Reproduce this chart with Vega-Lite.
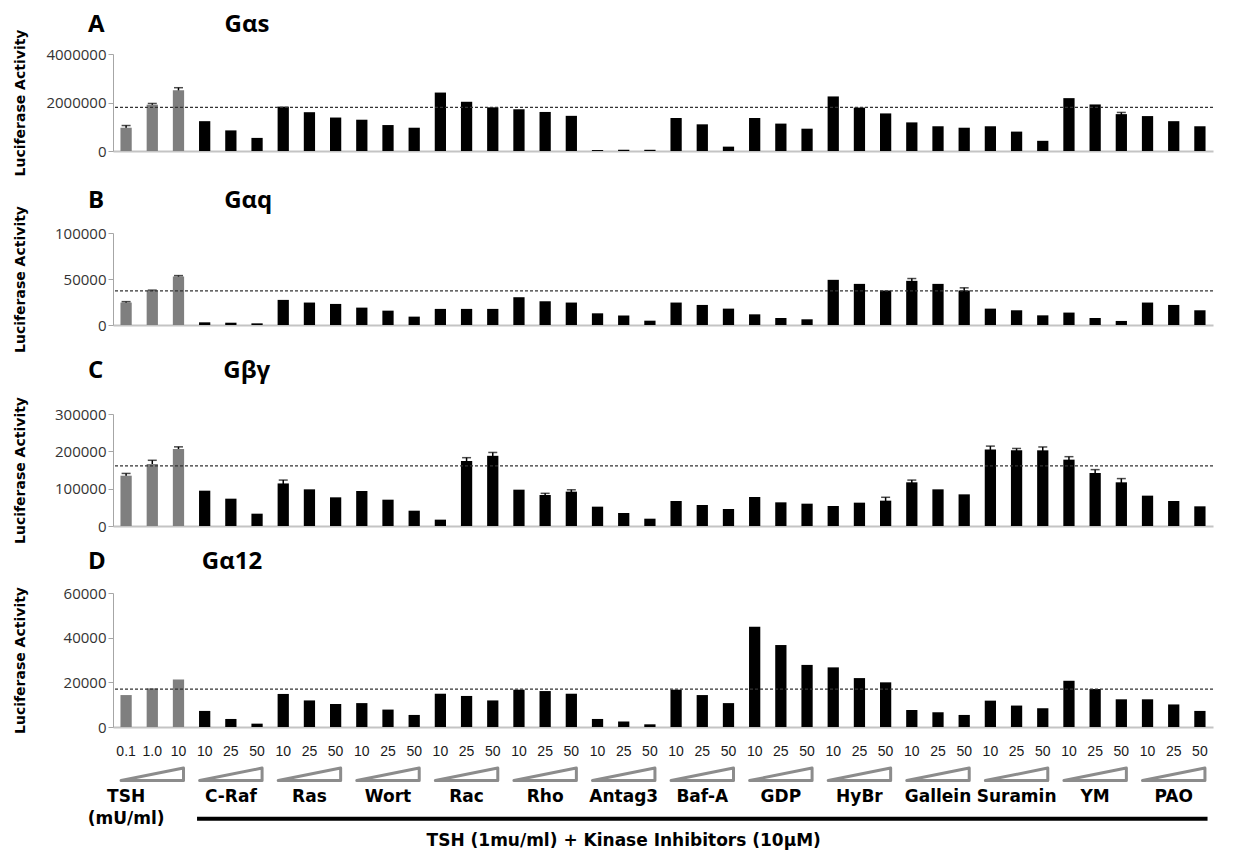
{
  "$schema": "https://vega.github.io/schema/vega-lite/v6.json",
  "background": "white",
  "padding": {"left": 13, "top": 13, "right": 10, "bottom": 0},
  "spacing": 6,
  "datasets": {
    "bars": [
      {"i": 1, "g": "TSH", "d": "0.1", "A": 960000, "eA": 90000, "B": 24400, "eB": 1000, "C": 134800, "eC": 6000, "D": 14300},
      {"i": 2, "g": "TSH", "d": "1.0", "A": 1910000, "eA": 50000, "B": 37100, "eB": 800, "C": 166000, "eC": 10000, "D": 17300},
      {"i": 3, "g": "TSH", "d": "10", "A": 2510000, "eA": 100000, "B": 52700, "eB": 1000, "C": 206000, "eC": 6000, "D": 21300},
      {"i": 4, "g": "C-Raf", "d": "10", "A": 1230000, "B": 2900, "C": 94600, "D": 7200},
      {"i": 5, "g": "C-Raf", "d": "25", "A": 850000, "B": 2500, "C": 73200, "D": 3600},
      {"i": 6, "g": "C-Raf", "d": "50", "A": 540000, "B": 1800, "C": 33000, "D": 1500},
      {"i": 7, "g": "Ras", "d": "10", "A": 1830000, "B": 27300, "C": 114000, "eC": 9000, "D": 14800},
      {"i": 8, "g": "Ras", "d": "25", "A": 1600000, "B": 24400, "C": 98200, "D": 11900},
      {"i": 9, "g": "Ras", "d": "50", "A": 1380000, "B": 22900, "C": 76800, "D": 10300},
      {"i": 10, "g": "Wort", "d": "10", "A": 1290000, "B": 18900, "C": 93800, "D": 10700},
      {"i": 11, "g": "Wort", "d": "25", "A": 1070000, "B": 15600, "C": 70500, "D": 7800},
      {"i": 12, "g": "Wort", "d": "50", "A": 960000, "B": 9100, "C": 41000, "D": 5400},
      {"i": 13, "g": "Rac", "d": "10", "A": 2410000, "B": 17500, "C": 17000, "D": 14900},
      {"i": 14, "g": "Rac", "d": "25", "A": 2030000, "B": 17500, "C": 174000, "eC": 9000, "D": 13900},
      {"i": 15, "g": "Rac", "d": "50", "A": 1800000, "B": 17500, "C": 188000, "eC": 9000, "D": 11900},
      {"i": 16, "g": "Rho", "d": "10", "A": 1720000, "B": 30200, "C": 97300, "D": 16700},
      {"i": 17, "g": "Rho", "d": "25", "A": 1610000, "B": 25800, "C": 83000, "eC": 4500, "D": 16100},
      {"i": 18, "g": "Rho", "d": "50", "A": 1450000, "B": 24400, "C": 92000, "eC": 5000, "D": 14900},
      {"i": 19, "g": "Antag3", "d": "10", "A": 40000, "B": 12700, "C": 51800, "D": 3600},
      {"i": 20, "g": "Antag3", "d": "25", "A": 50000, "B": 10200, "C": 34800, "D": 2500},
      {"i": 21, "g": "Antag3", "d": "50", "A": 50000, "B": 4700, "C": 19600, "D": 1200},
      {"i": 22, "g": "Baf-A", "d": "10", "A": 1360000, "B": 24400, "C": 67000, "D": 16700},
      {"i": 23, "g": "Baf-A", "d": "25", "A": 1100000, "B": 21800, "C": 56300, "D": 14300},
      {"i": 24, "g": "Baf-A", "d": "50", "A": 180000, "B": 17800, "C": 45500, "D": 10700},
      {"i": 25, "g": "GDP", "d": "10", "A": 1360000, "B": 11600, "C": 77700, "D": 44900},
      {"i": 26, "g": "GDP", "d": "25", "A": 1130000, "B": 7600, "C": 63400, "D": 36700},
      {"i": 27, "g": "GDP", "d": "50", "A": 920000, "B": 6200, "C": 59800, "D": 27800},
      {"i": 28, "g": "HyBr", "d": "10", "A": 2250000, "B": 49100, "C": 53600, "D": 26700},
      {"i": 29, "g": "HyBr", "d": "25", "A": 1790000, "B": 44700, "C": 62500, "D": 21900},
      {"i": 30, "g": "HyBr", "d": "50", "A": 1550000, "B": 37500, "C": 67900, "eC": 9000, "D": 20000},
      {"i": 31, "g": "Gallein", "d": "10", "A": 1180000, "B": 48000, "eB": 2500, "C": 117000, "eC": 6000, "D": 7600},
      {"i": 32, "g": "Gallein", "d": "25", "A": 1020000, "B": 44700, "C": 98200, "D": 6600},
      {"i": 33, "g": "Gallein", "d": "50", "A": 960000, "B": 37500, "eB": 2900, "C": 84800, "D": 5400},
      {"i": 34, "g": "Suramin", "d": "10", "A": 1020000, "B": 17800, "C": 205000, "eC": 9000, "D": 11800},
      {"i": 35, "g": "Suramin", "d": "25", "A": 800000, "B": 16000, "C": 202700, "eC": 5000, "D": 9600},
      {"i": 36, "g": "Suramin", "d": "50", "A": 420000, "B": 10500, "C": 202700, "eC": 9000, "D": 8400},
      {"i": 37, "g": "YM", "d": "10", "A": 2180000, "B": 13500, "C": 177700, "eC": 8000, "D": 20700},
      {"i": 38, "g": "YM", "d": "25", "A": 1920000, "B": 7600, "C": 142000, "eC": 9000, "D": 17000},
      {"i": 39, "g": "YM", "d": "50", "A": 1520000, "eA": 70000, "B": 4400, "C": 117000, "eC": 10000, "D": 12400},
      {"i": 40, "g": "PAO", "d": "10", "A": 1440000, "B": 24400, "C": 81300, "D": 12400},
      {"i": 41, "g": "PAO", "d": "25", "A": 1230000, "B": 21800, "C": 67000, "D": 10100},
      {"i": 42, "g": "PAO", "d": "50", "A": 1020000, "B": 16000, "C": 52700, "D": 7200}
    ],
    "refs": [{"A": 1800000, "B": 37000, "C": 161000, "D": 17000}],
    "groups": [
      {"g": "TSH", "sub": "(mU/ml)", "at": 1, "mid": 2},
      {"g": "C-Raf", "at": 5, "mid": 5},
      {"g": "Ras", "at": 8, "mid": 8},
      {"g": "Wort", "at": 11, "mid": 11},
      {"g": "Rac", "at": 14, "mid": 14},
      {"g": "Rho", "at": 17, "mid": 17},
      {"g": "Antag3", "at": 20, "mid": 20},
      {"g": "Baf-A", "at": 23, "mid": 23},
      {"g": "GDP", "at": 26, "mid": 26},
      {"g": "HyBr", "at": 29, "mid": 29},
      {"g": "Gallein", "at": 32, "mid": 32},
      {"g": "Suramin", "at": 35, "mid": 35},
      {"g": "YM", "at": 38, "mid": 38},
      {"g": "PAO", "at": 41, "mid": 41}
    ],
    "span": [{"from": 4, "to": 42, "at": 20, "text": "TSH (1mu/ml) + Kinase Inhibitors (10µM)"}]
  },
  "config": {
    "view": {"stroke": null},
    "font": "Open Sans",
    "title": {"font": "Open Sans", "fontSize": 24, "fontWeight": "bold", "color": "black", "anchor": "start", "frame": "group", "baseline": "alphabetic", "dx": -25},
    "axisY": {
      "grid": false, "format": "d", "domainColor": "#a6a6a6", "tickColor": "#a6a6a6", "tickSize": 5,
      "labelFont": "Open Sans", "labelFontSize": 15, "labelColor": "#333333", "labelPadding": 2,
      "titleFont": "DejaVu Sans", "titleFontSize": 14, "titleFontWeight": "bold", "titleColor": "black",
      "titleX": -89, "titleBaseline": "alphabetic"
    },
    "axisX": {"labels": false, "ticks": false, "title": null, "domainColor": "#c4c4c4", "domainWidth": 2}
  },
  "resolve": {"scale": {"y": "independent"}},
  "vconcat": [
    {
      "width": 1100, "height": 97,
      "title": {"text": "A\u2003\u2003\u2003\u2003\u2003Gαs", "offset": -8},
      "data": {"name": "bars"},
      "encoding": {"y": {"field": "A", "type": "quantitative", "scale": {"domain": [0, 4000000], "nice": false}, "axis": {"values": [0, 2000000, 4000000], "title": "Luciferase Activity"}}},
      "layer": [
        {"transform": [{"filter": "datum.eA > 0"}], "mark": {"type": "errorbar", "ticks": {"size": 9}, "thickness": 1.5, "color": "black"},
         "encoding": {"x": {"field": "i", "type": "ordinal", "scale": {"paddingInner": 0.57, "paddingOuter": 0.285}, "axis": {"minExtent": 32}}, "yError": {"field": "eA"}}},
        {"mark": {"type": "bar"},
         "encoding": {"x": {"field": "i", "type": "ordinal", "scale": {"paddingInner": 0.57, "paddingOuter": 0.285}, "axis": {"minExtent": 32}},
           "color": {"condition": {"test": "datum.g === 'TSH'", "value": "#7f7f7f"}, "value": "black"}}},
        {"data": {"name": "refs"}, "mark": {"type": "rule", "strokeDash": [3, 2], "color": "#333333", "strokeWidth": 1.3}, "encoding": {}}
      ]
    },
    {
      "width": 1100, "height": 92,
      "title": {"text": "B\u2003\u2003\u2003\u2003\u2003Gαq", "offset": -7.8},
      "data": {"name": "bars"},
      "encoding": {"y": {"field": "B", "type": "quantitative", "scale": {"domain": [0, 100000], "nice": false}, "axis": {"values": [0, 50000, 100000], "title": "Luciferase Activity"}}},
      "layer": [
        {"transform": [{"filter": "datum.eB > 0"}], "mark": {"type": "errorbar", "ticks": {"size": 9}, "thickness": 1.5, "color": "black"},
         "encoding": {"x": {"field": "i", "type": "ordinal", "scale": {"paddingInner": 0.57, "paddingOuter": 0.285}, "axis": {"minExtent": 28}}, "yError": {"field": "eB"}}},
        {"mark": {"type": "bar"},
         "encoding": {"x": {"field": "i", "type": "ordinal", "scale": {"paddingInner": 0.57, "paddingOuter": 0.285}, "axis": {"minExtent": 28}},
           "color": {"condition": {"test": "datum.g === 'TSH'", "value": "#7f7f7f"}, "value": "black"}}},
        {"data": {"name": "refs"}, "mark": {"type": "rule", "strokeDash": [3, 2], "color": "#333333", "strokeWidth": 1.3}, "encoding": {}}
      ]
    },
    {
      "width": 1100, "height": 112,
      "title": {"text": "C\u2003\u2003\u2003\u2003\u2003Gβγ", "offset": 13.2},
      "data": {"name": "bars"},
      "encoding": {"y": {"field": "C", "type": "quantitative", "scale": {"domain": [0, 300000], "nice": false}, "axis": {"values": [0, 100000, 200000, 300000], "title": "Luciferase Activity"}}},
      "layer": [
        {"transform": [{"filter": "datum.eC > 0"}], "mark": {"type": "errorbar", "ticks": {"size": 9}, "thickness": 1.5, "color": "black"},
         "encoding": {"x": {"field": "i", "type": "ordinal", "scale": {"paddingInner": 0.57, "paddingOuter": 0.285}}, "yError": {"field": "eC"}}},
        {"mark": {"type": "bar"},
         "encoding": {"x": {"field": "i", "type": "ordinal", "scale": {"paddingInner": 0.57, "paddingOuter": 0.285}},
           "color": {"condition": {"test": "datum.g === 'TSH'", "value": "#7f7f7f"}, "value": "black"}}},
        {"data": {"name": "refs"}, "mark": {"type": "rule", "strokeDash": [3, 2], "color": "#333333", "strokeWidth": 1.3}, "encoding": {}}
      ]
    },
    {
      "width": 1100, "height": 134,
      "title": {"text": "D\u2003\u2003\u2003\u2003Gα12", "offset": 11.7},
      "data": {"name": "bars"},
      "encoding": {"y": {"field": "D", "type": "quantitative", "scale": {"domain": [0, 60000], "nice": false}, "axis": {"values": [0, 20000, 40000, 60000], "title": "Luciferase Activity"}}},
      "layer": [
        {"mark": {"type": "bar"},
         "encoding": {"x": {"field": "i", "type": "ordinal", "scale": {"paddingInner": 0.57, "paddingOuter": 0.285}},
           "color": {"condition": {"test": "datum.g === 'TSH'", "value": "#7f7f7f"}, "value": "black"}}},
        {"data": {"name": "refs"}, "mark": {"type": "rule", "strokeDash": [3, 2], "color": "#333333", "strokeWidth": 1.3}, "encoding": {}}
      ]
    },
    {
      "width": 1100, "height": 111,
      "layer": [
        {"data": {"name": "bars"}, "mark": {"type": "text", "font": "Liberation Sans", "fontSize": 14, "color": "#1a1a1a"},
         "encoding": {"x": {"field": "i", "type": "ordinal", "scale": {"paddingInner": 0.57, "paddingOuter": 0.285}, "axis": null},
           "y": {"datum": "dose", "type": "ordinal", "scale": {"type": "point", "domain": ["dose", "wedge", "name", "line", "caption"], "padding": 0.5}, "axis": null},
           "text": {"field": "d"}}},
        {"data": {"name": "groups"}, "mark": {"type": "point", "shape": "M -1 0.2 L 1 -0.2 L 1 0.2 Z", "size": 3900, "filled": true, "fill": "white", "stroke": "#8c8c8c", "strokeWidth": 3, "opacity": 1, "strokeJoin": "round"},
         "encoding": {"x": {"field": "mid", "type": "ordinal", "axis": null},
           "y": {"datum": "wedge", "type": "ordinal", "axis": null}}},
        {"data": {"name": "groups"}, "mark": {"type": "text", "font": "DejaVu Sans", "fontWeight": "bold", "fontSize": 17, "color": "black"},
         "encoding": {"x": {"field": "at", "type": "ordinal", "axis": null},
           "y": {"datum": "name", "type": "ordinal", "axis": null},
           "text": {"field": "g"}}},
        {"data": {"name": "groups"}, "transform": [{"filter": "datum.sub != null"}], "mark": {"type": "text", "font": "DejaVu Sans", "fontWeight": "bold", "fontSize": 17, "color": "black"},
         "encoding": {"x": {"field": "at", "type": "ordinal", "axis": null},
           "y": {"datum": "line", "type": "ordinal", "axis": null},
           "text": {"field": "sub"}}},
        {"data": {"name": "span"}, "mark": {"type": "rule", "strokeWidth": 4, "color": "black", "strokeCap": "square"},
         "encoding": {"x": {"field": "from", "type": "ordinal", "bandPosition": 0, "axis": null},
           "x2": {"field": "to", "bandPosition": 1},
           "y": {"datum": "line", "type": "ordinal", "axis": null}}},
        {"data": {"name": "span"}, "mark": {"type": "text", "font": "DejaVu Sans", "fontWeight": "bold", "fontSize": 17, "color": "black"},
         "encoding": {"x": {"field": "at", "type": "ordinal", "axis": null},
           "y": {"datum": "caption", "type": "ordinal", "axis": null},
           "text": {"field": "text"}}}
      ]
    }
  ]
}
